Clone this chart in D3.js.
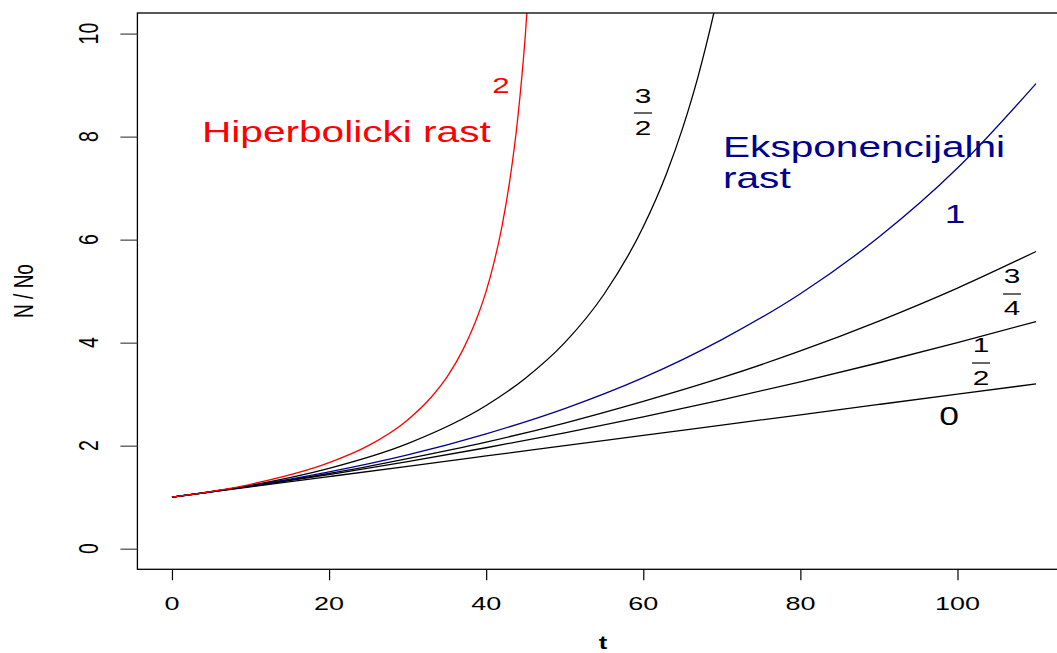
<!DOCTYPE html>
<html>
<head>
<meta charset="utf-8">
<script src="https://cdn.jsdelivr.net/npm/d3@7"></script>
<style>
  html, body { margin: 0; padding: 0; background: #fff; }
  svg { display: block; font-family: "Liberation Sans", Arial, Helvetica, sans-serif; }
</style>
</head>
<body>
<svg id="chart" width="1057" height="653"></svg>
<script>
// ---- data ----
const xTicks = [0, 20, 40, 60, 80, 100];
const yTicks = [0, 2, 4, 6, 8, 10];

const tK0   = [0, 10, 20, 30, 40, 50, 60, 70, 80, 90, 100, 110];
const nK0   = [1.00, 1.20, 1.40, 1.60, 1.80, 2.00, 2.20, 2.40, 2.60, 2.80, 3.00, 3.20];

const tKhalf = [0, 10, 20, 30, 40, 50, 60, 70, 80, 90, 100, 110];
const nKhalf = [1.00, 1.21, 1.44, 1.69, 1.96, 2.25, 2.56, 2.89, 3.24, 3.61, 4.00, 4.41];

const tK34  = [0, 10, 20, 30, 40, 50, 60, 70, 80, 90, 100, 110];
const nK34  = [1.00, 1.22, 1.46, 1.75, 2.07, 2.44, 2.86, 3.32, 3.84, 4.42, 5.06, 5.77];

const tK1   = [0, 10, 20, 30, 40, 50, 60, 70, 80, 90, 100, 110];
const nK1   = [1.00, 1.22, 1.49, 1.82, 2.23, 2.72, 3.32, 4.06, 4.95, 6.05, 7.39, 9.03];

const tK32  = [0, 10, 20, 30, 40, 45, 50, 55, 60, 63, 65, 67, 68, 69, 70];
const nK32  = [1.00, 1.23, 1.56, 2.04, 2.78, 3.31, 4.00, 4.94, 6.25, 7.30, 8.16, 9.18, 9.77, 10.41, 11.11];

const tK2   = [0, 10, 20, 25, 30, 33, 35, 37, 39, 40, 41, 42, 43, 44, 45, 45.5];
const nK2   = [1.00, 1.25, 1.67, 2.00, 2.50, 2.94, 3.33, 3.85, 4.55, 5.00, 5.56, 6.25, 7.14, 8.33, 10.00, 11.11];

// ---- layout ----
const W = 1057, H = 653;
const plot = { left: 137.4, top: 13, right: 1070.6, bottom: 569.3 };
const S = 1.42; // horizontal stretch of the text in the reference
const RED = "#ff0000", BLUE = "#00008b";

const svg = d3.select("#chart");
const x = d3.scaleLinear().domain([-4.4, 114.4]).range([plot.left, plot.right]);
const y = d3.scaleLinear().domain([-0.4, 10.4]).range([plot.bottom, plot.top]);

svg.append("clipPath").attr("id", "clip")
  .append("rect")
  .attr("x", plot.left).attr("y", plot.top)
  .attr("width", plot.right - plot.left).attr("height", plot.bottom - plot.top);

function label(px, py, txt, size, color, anchor, weight, rot) {
  const g = svg.append("g")
    .attr("transform", `translate(${px},${py}) scale(${S},1)` + (rot ? ` rotate(${rot})` : ""));
  g.append("text")
    .attr("x", 0).attr("y", 0)
    .attr("text-anchor", anchor || "middle")
    .attr("font-size", size)
    .attr("font-weight", weight || "normal")
    .attr("fill", color || "#000")
    .text(txt);
  return g;
}

// curves
const line = d3.line().x(d => x(d[0])).y(d => y(d[1])).curve(d3.curveMonotoneX);
const series = [
  { t: tK0, n: nK0, color: "#000" },
  { t: tKhalf, n: nKhalf, color: "#000" },
  { t: tK34, n: nK34, color: "#000" },
  { t: tK1, n: nK1, color: BLUE },
  { t: tK32, n: nK32, color: "#000" },
  { t: tK2, n: nK2, color: RED }
];
const gLines = svg.append("g").attr("clip-path", "url(#clip)");
series.forEach(s => {
  gLines.append("path")
    .datum(s.t.map((t, i) => [t, s.n[i]]))
    .attr("d", line)
    .attr("fill", "none")
    .attr("stroke", s.color)
    .attr("stroke-width", 1.3);
});

// box
svg.append("rect")
  .attr("x", plot.left).attr("y", plot.top)
  .attr("width", plot.right - plot.left).attr("height", plot.bottom - plot.top)
  .attr("fill", "none").attr("stroke", "#000").attr("stroke-width", 1.3);

// x axis
const xAxis = d3.axisBottom(x).tickValues(xTicks).tickSize(11).tickSizeOuter(0).tickFormat("");
const gx = svg.append("g").attr("transform", `translate(0,${plot.bottom})`).call(xAxis);
gx.select(".domain").remove();
gx.selectAll(".tick line").attr("stroke", "#000").attr("stroke-width", 1.2);
xTicks.forEach(v => label(x(v), 610, String(v), 19, "#000", "middle"));

// y axis
const yAxis = d3.axisLeft(y).tickValues(yTicks).tickSize(17).tickSizeOuter(0).tickFormat("");
const gy = svg.append("g").attr("transform", `translate(${plot.left},0)`).call(yAxis);
gy.select(".domain").remove();
gy.selectAll(".tick line").attr("stroke", "#444").attr("stroke-width", 1.2);
yTicks.forEach(v => label(98, y(v), String(v), 19.5, "#000", "middle", "normal", -90));

// axis titles
label(603, 649, "t", 18, "#000", "middle", "bold");
label(33, 291, "N / No", 19, "#000", "middle", "normal", -90);

// annotations
label(202, 142, "Hiperbolicki rast", 28.6, RED, "start");
label(501, 93, "2", 22, RED, "middle");

label(723, 157, "Eksponencijalni", 28.6, BLUE, "start");
label(723, 188, "rast", 28.6, BLUE, "start");
label(955, 223, "1", 26, BLUE, "middle");

function frac(cx, numBase, barY, denBase, num, den, half) {
  label(cx, numBase, num, 21, "#000", "middle");
  svg.append("line").attr("x1", cx - half).attr("x2", cx + half)
    .attr("y1", barY).attr("y2", barY).attr("stroke", "#000").attr("stroke-width", 1.2);
  label(cx, denBase, den, 21, "#000", "middle");
}
frac(643, 103, 113, 135, "3", "2", 9);
frac(1012, 283, 294, 315, "3", "4", 9);
frac(981, 352, 363, 385, "1", "2", 9);

label(949, 425, "0", 25, "#000", "middle");
</script>
</body>
</html>
